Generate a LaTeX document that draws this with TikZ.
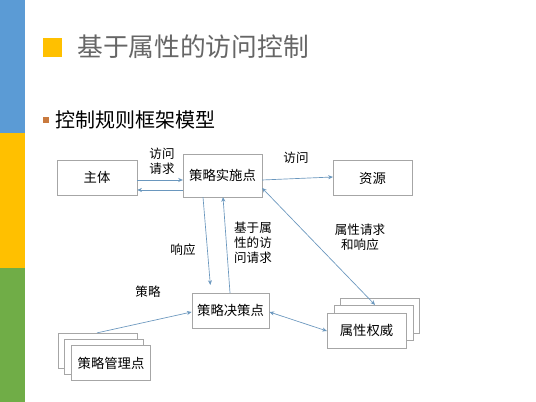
\documentclass[tikz,border=0pt]{standalone}
\usepackage{fontspec}
\setmainfont{Noto Sans CJK SC}
\usepackage{xcolor}
\usepackage{tikz}
\usetikzlibrary{positioning, arrows.meta, calc}
\definecolor{barblue}{HTML}{5B9BD5}
\definecolor{baryellow}{HTML}{FFC000}
\definecolor{bargreen}{HTML}{70AD47}
\definecolor{bulletorange}{HTML}{C97A3E}
\definecolor{titlegray}{HTML}{666666}
\definecolor{boxgray}{HTML}{A6A6A6}
\definecolor{linkblue}{HTML}{6A97BE}

\tikzset{
  abacbox/.style={draw=boxgray, fill=white, minimum width=59pt, minimum height=26pt,
                  inner sep=0pt, font=\fontsize{10}{12}\selectfont},
  abaclbl/.style={align=center, inner sep=0pt, font=\fontsize{9.4}{11.3}\selectfont},
  abacarr/.style={draw=linkblue, line width=0.5pt, -{Stealth[length=3.5pt,width=3pt]}},
  abacdbl/.style={abacarr, {Stealth[length=3.5pt,width=3pt]}-{Stealth[length=3.5pt,width=3pt]}}
}

\begin{document}
\begin{tikzpicture}[x=0.75pt, y=-0.75pt]
    \useasboundingbox (0,0) rectangle (536,402);
    \fill[white] (0,0) rectangle (536,402);
    % side bars
    \fill[barblue] (0,0) rectangle (25,133);
    \fill[baryellow] (0,133) rectangle (25,268);
    \fill[bargreen] (0,268) rectangle (25,402);

    % title and subtitle
    \fill[baryellow] (43,38) rectangle (62,57);
    \node[anchor=west, inner sep=0pt, text=titlegray, font=\fontsize{19.3}{23}\selectfont] (title) at (77,47) {基于属性的访问控制};
    \fill[bulletorange] (43,117) rectangle (49,123);
    \node[anchor=west, inner sep=0pt, font=\fontsize{15}{18}\selectfont] (subtitle) at (55,120) {控制规则框架模型};

    % boxes
    \node[abacbox, minimum width=60pt] (subj) at (97,177.5) {主体};
    \node[abacbox, minimum height=32pt] (pep) at (222.5,175.5) {策略实施点};
    \node[abacbox] (res) at (372.5,178) {资源};
    \node[abacbox, minimum width=58pt] (pdp) at (230.5,310.5) {策略决策点};
    \node[abacbox] (pip3) at (380,316) {};
    \node[abacbox] (pip2) at (373.5,322.5) {};
    \node[abacbox] (pip) at (366.5,330.5) {属性权威};
    \node[abacbox] (pap3) at (97.5,350.5) {};
    \node[abacbox] (pap2) at (104,356.5) {};
    \node[abacbox] (pap) at (111,363) {策略管理点};

    % connectors
    \draw[abacarr] (subj.east |- 0,180) -- (pep.west |- 0,180);
    \draw[abacarr] (pep.west |- 0,190) -- (subj.east |- 0,190);
    \draw[abacarr] (pep.east |- 0,180) -- (res.west |- 0,177);
    \draw[abacarr, shorten >=6pt] (pep.south -| 203,0) -- (pdp.north -| 211,0);
    \draw[abacarr] (pdp.north -| 230,0) -- (pep.south -| 223,0);
    \draw[abacdbl] (pep.east |- 0,188) -- (pip2.north -| 375,0);
    \draw[abacdbl] (pdp.east |- 0,312) -- (pip.west |- 0,331);
    \draw[abacarr] (pap3.north -| 97,0) -- (pdp.west |- 0,312);

    % labels
    \node[abaclbl] (reqlbl) at (162,161) {访问\\请求};
    \node[abaclbl] (acclbl) at (296,158) {访问};
    \node[abaclbl] (abrlbl) at (253,243) {基于属\\性的访\\问请求};
    \node[abaclbl] (resplbl) at (183,250) {响应};
    \node[abaclbl] (attrlbl) at (360,237) {属性请求\\和响应};
    \node[abaclbl] (pollbl) at (148,292) {策略};
\end{tikzpicture}
\end{document}
